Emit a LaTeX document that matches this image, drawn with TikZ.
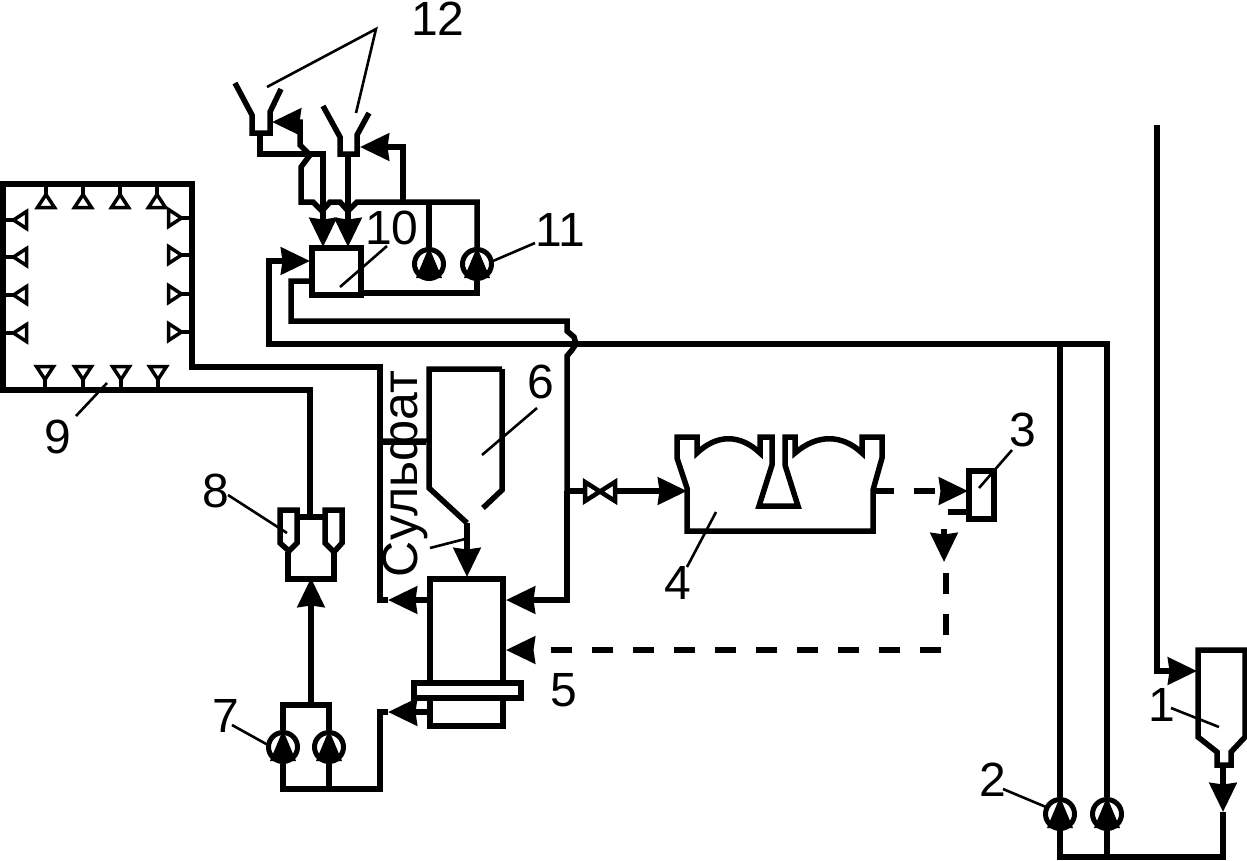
\documentclass[tikz,border=0pt]{standalone}
\usepackage{fontspec}
\setmainfont{Liberation Sans}
\usetikzlibrary{arrows.meta}
\tikzset{
  pipe/.style={line width=5.5pt,line join=miter,miter limit=10},
  body/.style={line width=5.5pt,line join=miter,miter limit=10},
  flow/.style={-{Stealth[length=29pt,width=27pt,inset=1.5pt]}},
  dashline/.style={pipe,dash pattern=on 21pt off 20pt},
  lead/.style={line width=2.6pt},
  num/.style={inner sep=0pt,font=\fontsize{48}{52}\selectfont},
  boxn/.style={draw,line width=5.5pt,rectangle,fill=white,inner sep=0pt},
  pumpn/.style={draw,line width=5pt,circle,fill=white,inner sep=0pt,minimum size=29pt},
  pics/noz/.style={code={
    \draw[line width=4pt] (0,0) -- (0,11);
    \draw[line width=3.5pt,fill=white,line join=miter] (0,10.5) -- (-8.5,23.5) -- (8.5,23.5) -- cycle;
  }}
}
\newcommand{\pumptri}[1]{\fill (#1.center) +(0,-17) -- +(-13,14) -- +(13,14) -- cycle;}
\begin{document}
\begin{tikzpicture}[x=1pt,y=-1pt]
\useasboundingbox (0,0) rectangle (1247,860);
\fill[white] (0,0) rectangle (1247,860);

% ---- room 9
\draw[pipe] (3,367) -- (3,184) -- (192,184) -- (192,367) -- (380,367) -- (380,600);
\draw[pipe] (3,184) -- (3,390) -- (310,390) -- (310,517);
\foreach \x in {46,83,120,157}{\pic at (\x,184) {noz};}
\foreach \x in {45,83,121,158}{\pic[rotate=180] at (\x,390) {noz};}
\foreach \y in {220,257,295,333}{\pic[rotate=90] at (3,\y) {noz};}
\foreach \y in {218,255,294,332}{\pic[rotate=-90] at (192,\y) {noz};}

% ---- boxes
\node[boxn,minimum width=49pt,minimum height=47pt] (box10) at (336.5,271.5) {};
\node[boxn,minimum width=73pt,minimum height=147pt] (box5) at (466.5,652.5) {};
\node[boxn,minimum width=107pt,minimum height=15pt] (flange) at (467.5,690.5) {};
\node[boxn,minimum width=25pt,minimum height=48pt] (box3) at (981.5,495) {};

% ---- connector ends
\coordinate (in10a) at (310,261);
\coordinate (out10) at (310,281);
\coordinate (out10b) at (361,293);
\coordinate (in5a) at (506,600);
\coordinate (in5b) at (506,650);
\coordinate (out5a) at (430,600);
\coordinate (out5a2) at (388,600);
\coordinate (out5b) at (430,712);
\coordinate (in7) at (388,712);
\coordinate (tee) at (567,491);
\coordinate (mainL) at (269,344);
\coordinate (mainR) at (1109.75,344);
\coordinate (riser2) at (1107,344);
\coordinate (main2) at (1060,344);

% ---- pumps
\node[pumpn] (p7a) at (283,747) {};
\node[pumpn] (p7b) at (329,747) {};
\node[pumpn] (p11a) at (429,264) {};
\node[pumpn] (p11b) at (477,264) {};
\node[pumpn] (p2a) at (1060,814) {};
\node[pumpn] (p2b) at (1107,814) {};

% ---- funnels 12
\draw[body] (235,83) -- (252,115) -- (252,133) -- (270,133) -- (270,112) -- (281,89);
\draw[body] (323,106) -- (340,137) -- (340,154) -- (357,154) -- (357,135) -- (369,113);
\coordinate (f1) at (260,133);
\coordinate (f2) at (348,154);
\coordinate (t1) at (323,247);
\coordinate (t2) at (348,247);
\coordinate (n1) at (272,122);
\coordinate (n2) at (360,147);
\draw[pipe,flow] (f1) -- (260,154) -- (323,154) -- (t1);
\draw[pipe,flow] (f2) -- (t2);
\draw[pipe] (p11a.north) -- (429,202);
\draw[pipe] (p11b.north) -- (477,202) -- (357,202) -- (348,211) -- (340,202) -- (330,202) -- (322,211) -- (313,202)
  -- (301,202) -- (301,167) -- (310,155) -- (300,145) -- (300,122) -- (298,122);
\draw[pipe,flow] (300,122) -- (n1);
\draw[pipe,flow] (403,202) |- (n2);
\draw[pipe] (out10b) -- (477,293) -- (p11b.south);

% ---- lines to box 10
\draw[pipe,flow] (mainR) -- (mainL) |- (in10a);
\draw[pipe] (out10) -| (291,321) -- (567,321) -- (567,331) -- (574,337) -- (576,344) -- (572,350) -- (567,356) -- (tee);
\draw[pipe,flow] (tee) |- (in5a);

% ---- pumps 2, main risers
\draw[pipe] (main2) -- (p2a.north);
\draw[pipe] (riser2) -- (p2b.north);
\draw[pipe] (p2b.south) -- (1107,857);
\draw[pipe] (p2a.south) -- (1060,857) -- (1223,857) -- (1223,812);

% ---- hopper 1
\draw[body] (1198,650) -- (1198,737) -- (1217,752) -- (1217,765) -- (1231,765) -- (1231,752) -- (1245,737) -- (1245,650) -- cycle;
\coordinate (h1out) at (1223,765);
\coordinate (h1tip) at (1223,812);
\coordinate (h1in) at (1197,671);
\coordinate (feed) at (1157,125);
\draw[pipe,flow] (h1out) -- (h1tip);
\draw[pipe,flow] (feed) |- (h1in);

% ---- tank 4
\draw[body] (677,437) -- (677,458) -- (687,488) -- (687,531) -- (873,531) -- (873,490) -- (882,458) -- (882,437)
  -- (862,437) -- (862,453) .. controls (842,434) and (817,434) .. (795,453) -- (795,437) -- (785,437) -- (785,465)
  -- (798,506) -- (759,506) -- (772,465) -- (772,437) -- (760,437) -- (760,453)
  .. controls (740,434) and (717,434) .. (697,453) -- (697,437) -- cycle;
\coordinate (t4in) at (687,491);
\coordinate (t4out) at (873,491);
\coordinate (valveL) at (583,491);
\coordinate (valveR) at (617,491);
\draw[pipe] (tee) -- (valveL);
\draw[line width=4.5pt,fill=white,line join=miter] (585,482) -- (615,501) -- (615,482) -- (585,501) -- cycle;
\draw[pipe,flow] (valveR) -- (t4in);

% ---- dashed lines
\coordinate (b3in) at (968,491);
\coordinate (d1) at (944,562);
\coordinate (d0) at (944,529);
\draw[dashline,flow] (t4out) -- (b3in);
\draw[pipe] (948,512) -- (969,512);
\draw[pipe,flow] (d0) -- (d1);
\draw[dashline,flow] (946,573) -- (946,650) -- (in5b);

% ---- box 5 arrows
\draw[pipe,flow] (out5a) -- (out5a2);
\draw[pipe] (out5a2) -- (377.25,600);
\draw[pipe,flow] (out5b) -- (in7);
\draw[pipe] (in7) -- (377.25,712);
\draw[pipe] (380,709.25) -- (380,789) -- (329,789);

% ---- pumps 7
\draw[pipe] (p7a.south) -- (283,789) -- (329,789) -- (p7b.south);
\draw[pipe] (p7a.north) -- (283,705) -- (329,705) -- (p7b.north);
\coordinate (box8b) at (311,578);
\draw[pipe,flow] (311,705) -- (box8b);

% ---- box 8
\draw[body] (288,552) -- (288,579) -- (334,579) -- (334,552);
\draw[body] (297,517) -- (325,517);
\draw[body] (280,510) -- (297,510) -- (297,543) -- (289,551) -- (280,543) -- cycle;
\draw[body] (325,510) -- (342,510) -- (342,543) -- (334,552) -- (325,543) -- cycle;

% ---- hopper 6
\coordinate (h6out) at (467,523);
\coordinate (h6tip) at (467,577);
\draw[body] (502,369) -- (429,369) -- (429,488) -- (h6out);
\draw[body] (502,369) -- (502,490) -- (483,508);
\draw[pipe,flow] (h6out) -- (h6tip);
\draw[line width=4pt] (380,443) -- (426,443);

% ---- pump triangles
\pumptri{p7a}\pumptri{p7b}\pumptri{p11a}\pumptri{p11b}\pumptri{p2a}\pumptri{p2b}

% ---- labels
\node[num] (l1) at (1162,705) {1};
\node[num] (l2) at (993,780) {2};
\node[num] (l3) at (1023,430) {3};
\node[num] (l4) at (678,583) {4};
\node[num] (l5) at (564,690) {5};
\node[num] (l6) at (541,382) {6};
\node[num] (l7) at (226,716) {7};
\node[num] (l8) at (216,491) {8};
\node[num] (l9) at (58,437) {9};
\node[num] (l10) at (392,228) {10};
\node[num] (l11) at (560,230) {11};
\node[num] (l12) at (438,19) {12};
\node[inner sep=0pt,rotate=90,anchor=base,font=\fontsize{50}{54}\selectfont] (sulf) at (417,474) {Сульфат};

% ---- leaders
\draw[lead] (1171,708) -- (1219,727);
\draw[lead] (1003,789) -- (1046,807);
\draw[lead] (1012,450) -- (979,488);
\draw[lead] (716,512) -- (687,567);
\draw[lead] (430,548) -- (465,539);
\draw[lead] (537,408) -- (482,455);
\draw[lead] (232,725) -- (268,745);
\draw[lead] (228,495) -- (287,533);
\draw[lead] (107,383) -- (76,416);
\draw[lead] (387,246) -- (340,287);
\draw[lead] (535,243) -- (493,261);
\draw[lead] (267,87) -- (376,29) -- (356,113);
\end{tikzpicture}
\end{document}
